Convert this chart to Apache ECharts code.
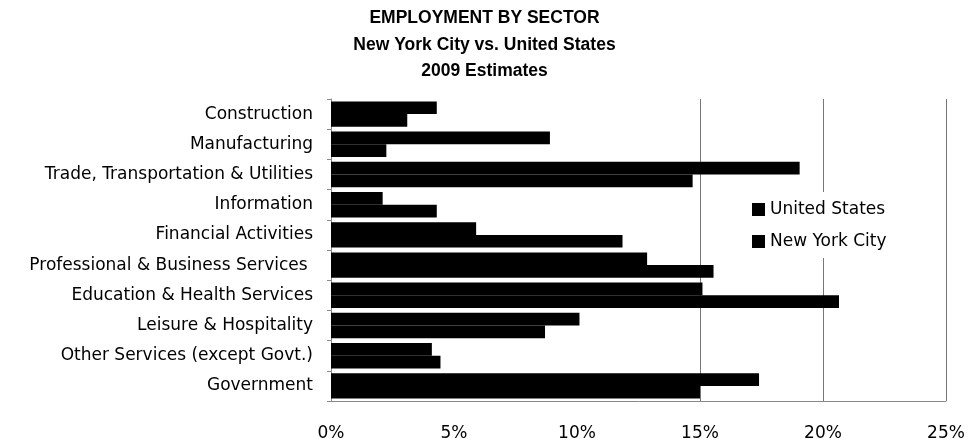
<!DOCTYPE html>
<html>
<head>
<meta charset="utf-8">
<script src="https://cdn.jsdelivr.net/npm/echarts@6/dist/echarts.min.js"></script>
<style>html,body{margin:0;padding:0;background:#fff;}#chart{width:969px;height:442px;}</style>
</head>
<body>
<div id="chart"></div>
<script>
const categories = ["Construction", "Manufacturing", "Trade, Transportation & Utilities", "Information", "Financial Activities", "Professional & Business Services ", "Education & Health Services", "Leisure & Hospitality", "Other Services (except Govt.)", "Government"];
const unitedStates = [4.3, 8.9, 19.05, 2.1, 5.9, 12.85, 15.1, 10.1, 4.1, 17.4];
const newYorkCity = [3.1, 2.25, 14.7, 4.3, 11.85, 15.55, 20.65, 8.7, 4.45, 15.0];
const xTicks = [0, 5, 10, 15, 20, 25];

const chart = echarts.init(document.getElementById('chart'));
const font = 'DejaVu Sans, Liberation Sans, Arial, sans-serif';
const titleFont = 'Liberation Sans, Arial, sans-serif';
chart.setOption({
  animation: false,
  backgroundColor: '#fff',
  title: {
    text: 'EMPLOYMENT BY SECTOR\nNew York City vs. United States\n2009 Estimates',
    left: 'center',
    top: 0,
    textStyle: { fontFamily: titleFont, fontWeight: 'bold', fontSize: 17.5, lineHeight: 26.5, color: '#000' }
  },
  legend: {
    orient: 'vertical',
    left: 746,
    top: 192,
    icon: 'rect',
    itemWidth: 13,
    itemHeight: 13,
    itemGap: 15,
    padding: [9, 8, 8, 6],
    backgroundColor: '#fff',
    textStyle: { fontFamily: font, fontSize: 17, color: '#000' },
    data: ['United States', 'New York City']
  },
  grid: { left: 331, right: 23, top: 99, bottom: 41, containLabel: false },
  xAxis: {
    type: 'value',
    min: xTicks[0],
    max: xTicks[xTicks.length - 1],
    interval: 5,
    axisLine: { show: true, lineStyle: { color: '#888', width: 1 } },
    axisTick: { show: false },
    splitLine: { show: true, lineStyle: { color: ['#888', 'rgba(0,0,0,0)', 'rgba(0,0,0,0)', '#777', '#777', '#777'], width: 1 } },
    axisLabel: { formatter: '{value}%', fontFamily: font, fontSize: 17, color: '#000', margin: 24 }
  },
  yAxis: {
    type: 'category',
    inverse: true,
    data: categories,
    axisLine: { show: true, lineStyle: { color: '#888', width: 1 } },
    axisTick: { show: true, length: 4, lineStyle: { color: '#888' } },
    axisLabel: { fontFamily: font, fontSize: 17, color: '#000', margin: 18 }
  },
  series: [
    { name: 'United States', type: 'bar', data: unitedStates, itemStyle: { color: '#000' }, barGap: '0%', barCategoryGap: '16%' },
    { name: 'New York City', type: 'bar', data: newYorkCity, itemStyle: { color: '#000' }, barGap: '0%', barCategoryGap: '16%' }
  ]
});
</script>
</body>
</html>
